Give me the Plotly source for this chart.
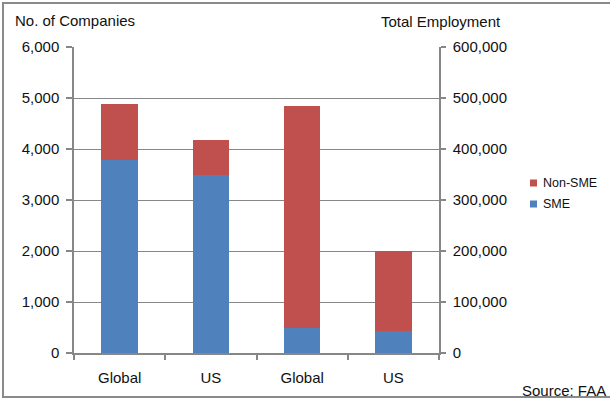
import plotly.graph_objects as go

# Category labels along the bottom axis
categories = ["Global", "US", "Global", "US"]

# Number of companies (left axis)
companies_sme = [3780, 3500]
companies_non_sme = [1100, 670]

# Total employment (right axis)
employment_sme = [50000, 42500]
employment_non_sme = [433700, 157500]

# Legend entries, top to bottom
legend_names = ["Non-SME", "SME"]

BLUE = "#4F81BD"
RED = "#C0504D"
GRID = "#878787"
FONT = "Liberation Sans, Arial, sans-serif"

ML, MR, MT, MB = 74, 171, 47, 49
W, H = 610, 402
pw = W - ML - MR
ph = H - MT - MB


def px_x(x):
    return (x - ML) / pw


def px_y(y):
    return 1 - (y - MT) / ph


fig = go.Figure()

x_left = [0, 1]
x_right = [2, 3]
bw = 0.4

fig.add_trace(go.Bar(x=x_left, y=companies_sme, name="SME", marker_color=BLUE,
                     width=bw, marker_line_width=0))
fig.add_trace(go.Bar(x=x_left, y=companies_non_sme, name="Non-SME", marker_color=RED,
                     width=bw, marker_line_width=0))
fig.add_trace(go.Bar(x=x_right, y=employment_sme, name="SME", marker_color=BLUE,
                     width=bw, yaxis="y2", marker_line_width=0))
fig.add_trace(go.Bar(x=x_right, y=employment_non_sme, name="Non-SME", marker_color=RED,
                     width=bw, yaxis="y2", marker_line_width=0))

annotations = [
    dict(text="No. of Companies", x=px_x(13), y=px_y(20),
         showarrow=False, xanchor="left", yanchor="middle"),
    dict(text="Total Employment", x=px_x(379), y=px_y(21),
         showarrow=False, xanchor="left", yanchor="middle"),
    dict(text="Source: FAA", x=px_x(608), y=px_y(390),
         showarrow=False, xanchor="right", yanchor="middle"),
]

# Compact legend placed to the right of the employment axis
shapes = []
for i, (name, color) in enumerate(zip(legend_names, [RED, BLUE])):
    cy = 183 + 21 * i
    shapes.append(dict(type="rect", xref="paper", yref="paper",
                       x0=px_x(530), x1=px_x(537), y0=px_y(cy + 3.5), y1=px_y(cy - 3.5),
                       fillcolor=color, line=dict(width=0)))
    annotations.append(dict(text=name, x=px_x(541), y=px_y(cy), showarrow=False,
                            xanchor="left", yanchor="middle", font=dict(size=12.5)))

# Outer frame around the whole chart
shapes.append(dict(type="rect", xref="paper", yref="paper",
                   x0=px_x(3), x1=px_x(620), y0=px_y(397), y1=px_y(3),
                   line=dict(color="#8a8a8a", width=2), layer="below"))

fig.update_layout(
    width=W, height=H,
    margin=dict(l=ML, r=MR, t=MT, b=MB),
    barmode="stack",
    showlegend=False,
    plot_bgcolor="white", paper_bgcolor="white",
    font=dict(family=FONT, size=15, color="#111111"),
    xaxis=dict(
        range=[-0.5, 3.5],
        tickvals=[0, 1, 2, 3], ticktext=categories,
        ticks="", ticklabelstandoff=10,
        showline=True, linecolor=GRID, linewidth=1.5,
        showgrid=False, zeroline=False,
        minor=dict(tickvals=[-0.5, 0.5, 1.5, 2.5, 3.5], ticks="outside",
                   ticklen=5, tickcolor=GRID, tickwidth=1.5, showgrid=False),
    ),
    yaxis=dict(
        range=[0, 6000], dtick=1000, tickformat=",",
        ticks="outside", ticklen=6, tickcolor=GRID, tickwidth=1.5,
        showline=True, linecolor=GRID, linewidth=1.5,
        showgrid=True, gridcolor=GRID, gridwidth=1.3,
        zeroline=False, ticklabelstandoff=4,
    ),
    yaxis2=dict(
        range=[0, 600000], dtick=100000, tickformat=",",
        overlaying="y", side="right",
        ticks="outside", ticklen=5, tickcolor=GRID, tickwidth=1.5,
        showline=True, linecolor=GRID, linewidth=1.5,
        showgrid=False, zeroline=False, ticklabelstandoff=4,
    ),
    annotations=annotations,
    shapes=shapes,
)
for a in fig.layout.annotations:
    a.xref = "paper"
    a.yref = "paper"

fig.write_html("out.html")
